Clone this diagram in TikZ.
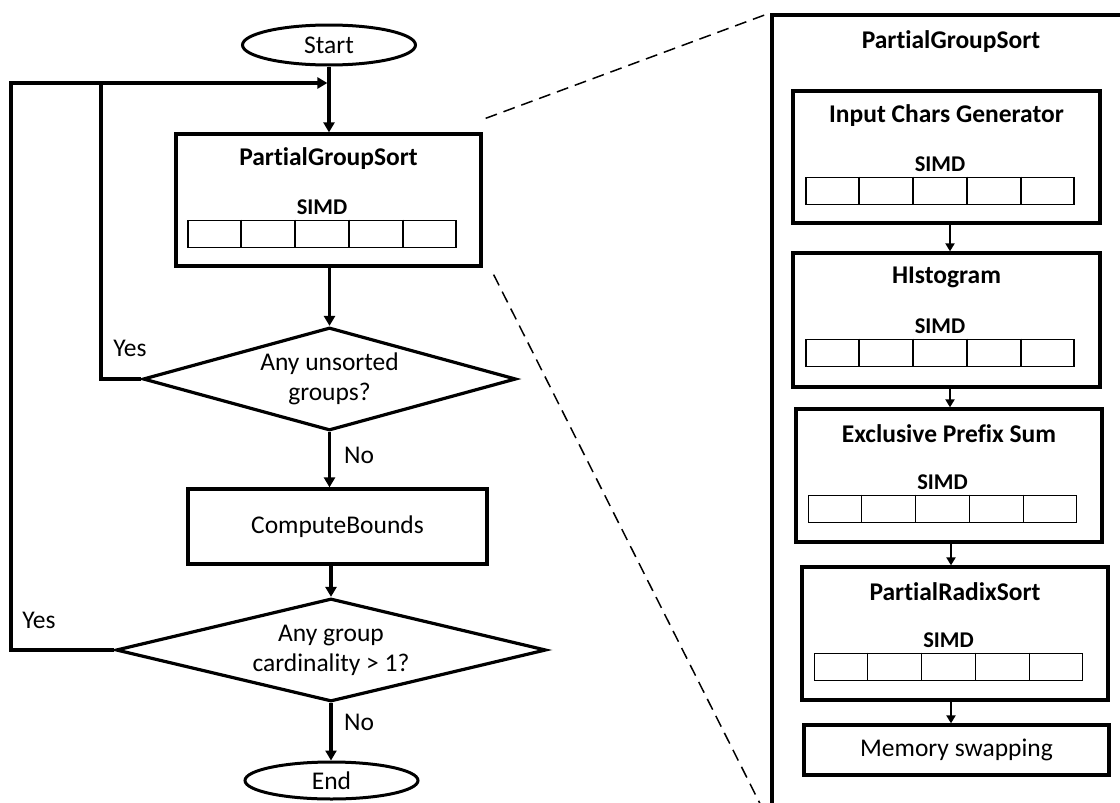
\documentclass[tikz,border=0pt]{standalone}
\usepackage{fontspec}
\setmainfont{Carlito}[Ligatures={NoCommon}]
\usetikzlibrary{shapes.geometric,arrows.meta,calc}

% A process box holding a title, a "SIMD" caption and a row of five lanes.
% #1 name, #2 centre, #3 width, #4 height, #5 title
\newcommand\simdblock[5]{%
  \node[procbox, minimum width=#3, minimum height=#4] (#1) at (#2) {};
  \node[titletext] (#1-title) at ($(#1.north)+(0,26)$) {#5};
  \node[simdtext] (#1-simd) at ($(#1.north)+(-6.5,75)$) {SIMD};
  \node[simdcells] (#1-cells) at ($(#1.north)+(-6.5,101.5)$) {};
  \foreach \cellidx in {1,...,4}
    \draw[cellline] ($(#1-cells.north west)!\cellidx/5!(#1-cells.north east)$)
                 -- ($(#1-cells.south west)!\cellidx/5!(#1-cells.south east)$);
}

\begin{document}
\begin{tikzpicture}[x=1pt,y=-1pt,
  every node/.style={font=\fontsize{25.5}{30}\selectfont, inner sep=0pt, text=black},
  flowline/.style={line width=3.2pt},
  arr/.style={flowline,-{Triangle[length=10pt,width=11pt]}},
  rarr/.style={line width=2.6pt,-{Triangle[length=8pt,width=9pt]}},
  terminal/.style={ellipse, draw, line width=3pt, minimum width=173pt},
  decision/.style={diamond, draw, line width=3.2pt, align=center},
  procbox/.style={rectangle, draw, line width=3.3pt},
  titletext/.style={font=\fontsize{25.5}{30}\selectfont\bfseries},
  simdtext/.style={font=\fontsize{22.5}{26}\selectfont\bfseries},
  simdcells/.style={rectangle, draw, line width=1.6pt, minimum width=268pt, minimum height=27pt},
  cellline/.style={line width=1.6pt},
  zoomline/.style={line width=1.5pt, dash pattern=on 12pt off 7pt},
  lbl/.style={font=\fontsize{25.5}{30}\selectfont}
]
\clip (0,0) rectangle (1120,803);
\fill[white] (0,0) rectangle (1120,803);

% ---------- main flow ----------
\node[terminal, minimum height=40pt] (start) at (329,45) {Start};
\simdblock{pgs}{328.5,200}{305pt}{132pt}{PartialGroupSort}
\node[decision, aspect=3.6, minimum width=373pt, minimum height=103pt] (d1) at (329.5,379) {Any unsorted\\groups?};
\node[procbox, minimum width=299pt, minimum height=75pt] (cb) at (337.5,526.5) {ComputeBounds};
\node[decision, aspect=4.2, minimum width=430pt, minimum height=103pt] (d2) at (331,650) {Any group\\cardinality > 1?};
\node[terminal, minimum height=37pt] (endn) at (331.5,780.5) {End};

\node[lbl] (yes1) at (130,348) {Yes};
\node[lbl] (no1) at (359,455) {No};
\node[lbl] (yes2) at (39,620) {Yes};
\node[lbl] (no2) at (359,722) {No};

\coordinate (loopin) at (101,83);
\coordinate (loopout) at (11,83);
\coordinate (entry) at ([xshift=-1.6pt]start.south |- loopin);

\draw[arr] (start.south) -- (start.south |- pgs.north);
\draw[arr] (pgs.south -| d1.north) -- (d1.north);
\draw[arr] (d1.south) -- (d1.south |- cb.north);
\draw[arr] (cb.south -| d2.north) -- (d2.north);
\draw[arr] (d2.south) -- (d2.south |- endn.north);
\draw[arr] (d1.west) -| (loopin) -- (entry);
\draw[flowline] (d2.west) -| (loopout) -- (loopin);

% ---------- expanded view of PartialGroupSort ----------
\node[procbox, line width=3.5pt, anchor=north west, minimum width=370pt, minimum height=807pt] (panel) at (770,13) {};
\node[titletext] (paneltitle) at (951,42) {PartialGroupSort};

\simdblock{b1}{946.5,157}{307pt}{132pt}{Input Chars Generator}
\simdblock{b2}{946.5,320}{307pt}{134pt}{HIstogram}
\simdblock{b3}{949,475.5}{306pt}{133pt}{Exclusive Prefix Sum}
\simdblock{b4}{955,633.5}{306pt}{133pt}{PartialRadixSort}
\node[procbox, minimum width=305pt, minimum height=50pt] (b5) at (956.5,750) {Memory swapping};

\draw[rarr] ([xshift=3.5pt]b1.south) -- ([xshift=3.5pt]b1.south |- b2.north);
\draw[rarr] ([xshift=3.5pt]b2.south) -- ([xshift=3.5pt]b2.south |- b3.north);
\draw[rarr] ([xshift=2pt]b3.south) -- ([xshift=2pt]b3.south |- b4.north);
\draw[rarr] ([xshift=-4pt]b4.south) -- ([xshift=-4pt]b4.south |- b5.north);

% zoom guides
\draw[zoomline] ([shift={(3,-14)}]pgs.north east) -- (panel.north west);
\draw[zoomline] ([shift={(11,7)}]pgs.south east) -- (panel.south west);
\end{tikzpicture}
\end{document}
